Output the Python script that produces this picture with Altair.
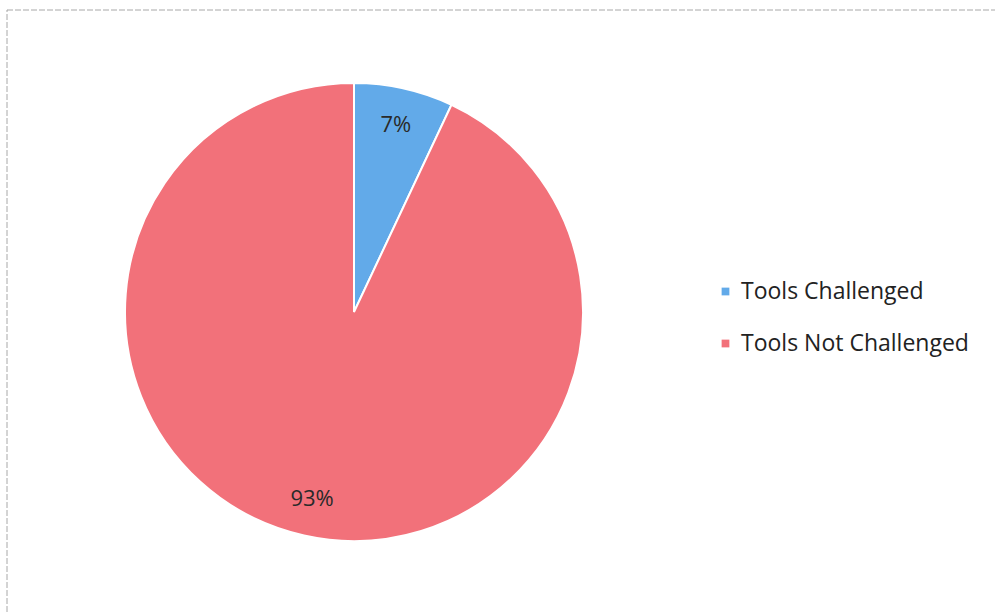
import altair as alt
import pandas as pd

categories = ["Tools Challenged", "Tools Not Challenged"]
values = [7, 93]
labels = ["7%", "93%"]
colors = ["#62AAE9", "#F2717A"]

df = pd.DataFrame({"category": categories, "value": values, "label": labels,
                   "order": list(range(len(categories)))})

cx, cy, r = 354, 312, 229

frame = alt.Chart(pd.DataFrame({"a": [0]})).mark_rect(
    fill="white", stroke="#a8a8a8", strokeWidth=1, strokeDash=[6, 2]
).encode(x=alt.value(7), x2=alt.value(1005), y=alt.value(10), y2=alt.value(625))

base = alt.Chart(df).encode(
    theta=alt.Theta("value:Q", stack=True),
    order=alt.Order("order:Q"),
)

pie = base.mark_arc(radius=r, stroke="white", strokeWidth=2).encode(
    x=alt.value(cx), y=alt.value(cy),
    color=alt.Color(
        "category:N",
        scale=alt.Scale(domain=categories, range=colors),
        legend=alt.Legend(
            title=None, orient="none", legendX=714, legendY=280,
            symbolType="square", symbolSize=60, labelFontSize=23,
            labelFont="Open Sans", labelColor="#222222", rowPadding=28,
            symbolStrokeWidth=0, labelLimit=0,
        ),
    ),
)

text = base.mark_text(radius=192, fontSize=22, font="Open Sans", color="#2a2a2a").encode(
    x=alt.value(cx), y=alt.value(cy), text="label:N"
)

chart = alt.layer(frame, pie, text).properties(
    width=995, height=612, padding=0, autosize=alt.AutoSizeParams(type="none")
).configure_view(stroke=None)

chart.save("out.html", embed_options={"renderer": "svg", "actions": False})
